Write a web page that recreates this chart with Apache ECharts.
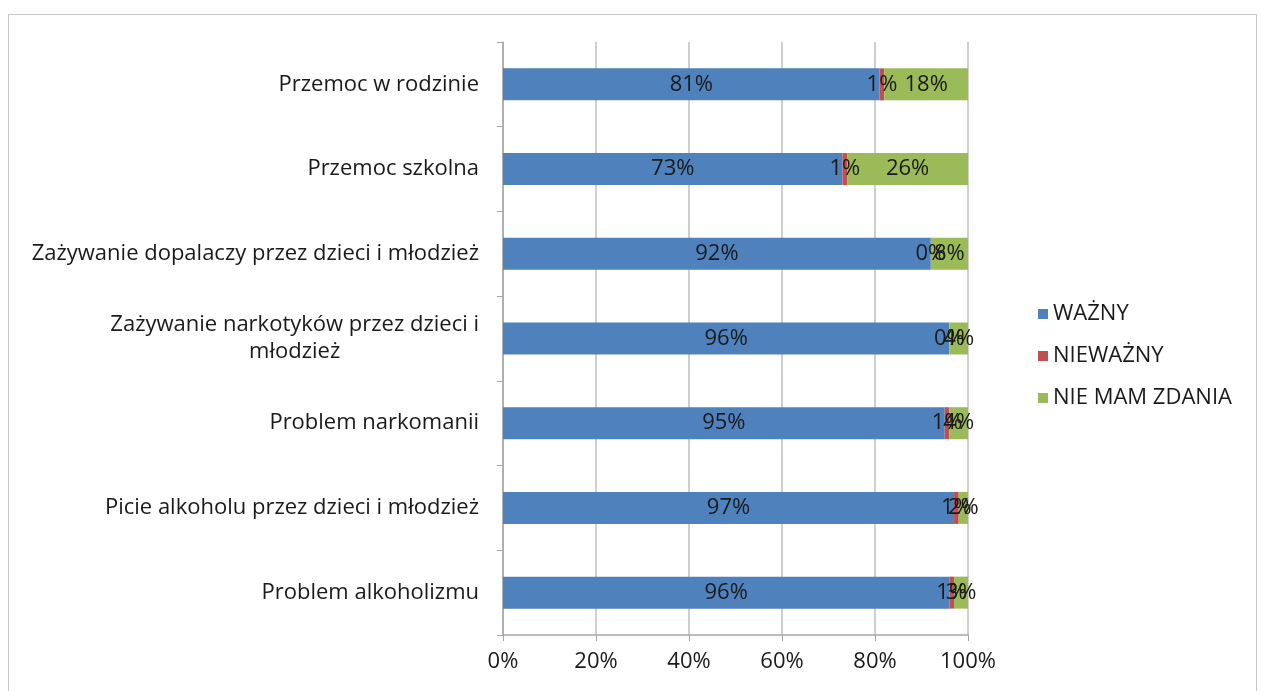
<!DOCTYPE html>
<html><head><meta charset="utf-8">
<script src="https://cdn.jsdelivr.net/npm/echarts@6/dist/echarts.min.js"></script>
<style>
html,body{margin:0;padding:0;background:#fff;}
#frame{position:absolute;left:8px;top:14px;width:1249px;height:690px;border:1.5px solid #c8c8c8;box-sizing:border-box;}
#c{position:absolute;left:0;top:0;width:1261px;height:691px;}
</style></head><body>
<div id="frame"></div>
<div id="c"></div>
<script>
const categories = [
  "Przemoc w rodzinie",
  "Przemoc szkolna",
  "Zażywanie dopalaczy przez dzieci i młodzież",
  "Zażywanie narkotyków przez dzieci i\nmłodzież",
  "Problem narkomanii",
  "Picie alkoholu przez dzieci i młodzież",
  "Problem alkoholizmu"
];
const wazny = [81, 73, 92, 96, 95, 97, 96];
const niewazny = [1, 1, 0, 0, 1, 1, 1];
const nieMamZdania = [18, 26, 8, 4, 4, 2, 3];
const seriesNames = ["WAŻNY", "NIEWAŻNY", "NIE MAM ZDANIA"];
const tickLabels = ["0%", "20%", "40%", "60%", "80%", "100%"];

const font = "'Open Sans', sans-serif";
const chart = echarts.init(document.getElementById('c'));
const lbl = {show:true, position:'inside', formatter: p => p.value + '%', color:'#1a1a1a', fontSize:22, fontFamily:font};
function mk(name, data, color){
  return {name, type:'bar', stack:'s', data, barWidth:32, itemStyle:{color}, label:lbl};
}
chart.setOption({
  animation:false,
  grid:{left:503, right:293, top:42, bottom:56},
  legend:{
    orient:'vertical', left:1033, top:298, itemGap:20, itemWidth:10, itemHeight:10,
    icon:'rect', textStyle:{fontSize:22, fontFamily:font, color:'#1a1a1a'},
    data: seriesNames
  },
  xAxis:{
    type:'value', min:0, max:100, interval:20,
    axisLabel:{formatter: v => tickLabels[v/20], fontSize:22, fontFamily:font, color:'#1a1a1a', margin:16},
    axisLine:{show:true, lineStyle:{color:'#a6a6a6', width:1.5}},
    axisTick:{show:true, length:6, lineStyle:{color:'#a6a6a6'}},
    splitLine:{show:true, lineStyle:{color:'#bfbfbf', width:1.5}}
  },
  yAxis:{
    type:'category', data:categories, inverse:true,
    axisLine:{show:true, lineStyle:{color:'#a6a6a6', width:1.5}},
    axisTick:{show:true, length:6, lineStyle:{color:'#a6a6a6'}},
    axisLabel:{
      margin:24, fontSize:22, fontFamily:font, color:'#1a1a1a', lineHeight:27,
      formatter: v => v.split('\n').map(s => '{l|' + s + '}').join('\n'),
      rich:{l:{align:'center', fontSize:22, fontFamily:font, color:'#1a1a1a', lineHeight:27}}
    }
  },
  series:[
    mk(seriesNames[0], wazny, '#4f81bd'),
    mk(seriesNames[1], niewazny, '#c0504d'),
    mk(seriesNames[2], nieMamZdania, '#9bbb59')
  ]
});
</script>
</body></html>
